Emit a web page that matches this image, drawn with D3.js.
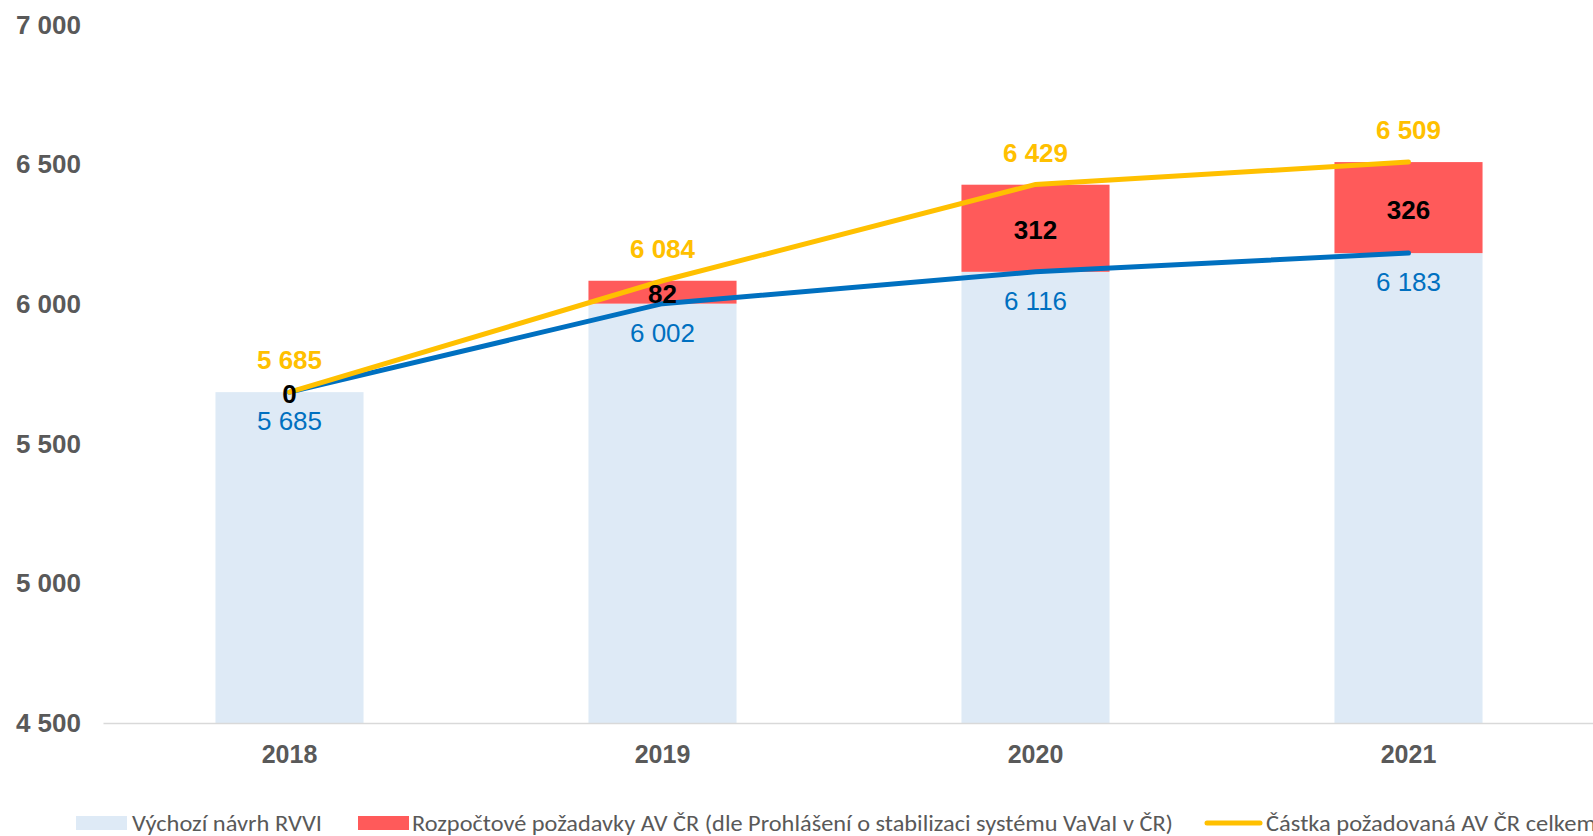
<!DOCTYPE html>
<html>
<head>
<meta charset="utf-8">
<script src="https://cdn.jsdelivr.net/npm/d3@7"></script>
<style>
  body { margin: 0; background: #fff; }
  svg { display: block; }
</style>
</head>
<body>
<div class="chart"></div>
<script>
//Chart data
var years = ["2018", "2019", "2020", "2021"];
var baseValues = [5685, 6002, 6116, 6183];
var requestValues = [0, 82, 312, 326];
var totalValues = [5685, 6084, 6429, 6509];
var yTicks = [4500, 5000, 5500, 6000, 6500, 7000];
var legendLabels = [
    "Výchozí návrh RVVI",
    "Rozpočtové požadavky AV ČR (dle Prohlášení o stabilizaci systému VaVaI v ČR)",
    "Částka požadovaná AV ČR celkem"
];

//Width and height
var w = 1593;
var h = 836;

var colBase = "#deeaf6";
var colRequest = "#ff5a5a";
var colBlue = "#0070c0";
var colOrange = "#ffc000";
var colText = "#595959";

//Czech style number format (space as thousands separator)
var fmt = d3.formatLocale({ decimal: ",", thousands: " ", grouping: [3], currency: ["", ""] }).format(",d");

var svg = d3.select(".chart")
    .append("svg")
    .attr("width", w)
    .attr("height", h)
    .style("font-family", "'Liberation Sans', Arial, sans-serif");

//Scales
var xScale = d3.scaleBand()
    .domain(years)
    .range([103, 1595])
    .paddingInner(0.603)
    .paddingOuter(0.3015);

var yScale = d3.scaleLinear()
    .domain([4500, 7000])
    .range([723, 25]);

var rows = years.map((y, i) => ({
    year: y,
    base: baseValues[i],
    request: requestValues[i],
    total: totalValues[i]
}));

//Y axis labels (no gridlines)
var yAxis = d3.axisLeft(yScale)
    .tickValues(yTicks)
    .tickFormat(fmt)
    .tickSize(0)
    .tickPadding(0);
var gy = svg.append("g")
    .attr("transform", "translate(81,0)")
    .call(yAxis);
gy.select(".domain").remove();
gy.selectAll("text")
    .attr("fill", colText)
    .style("font-size", "26px")
    .style("font-weight", "bold");

//Bars
svg.selectAll(".base")
    .data(rows)
    .enter()
    .append("rect")
    .attr("class", "base")
    .attr("x", d => xScale(d.year))
    .attr("y", d => yScale(d.base))
    .attr("width", xScale.bandwidth())
    .attr("height", d => yScale(4500) - yScale(d.base))
    .attr("fill", colBase);

svg.selectAll(".request")
    .data(rows)
    .enter()
    .append("rect")
    .attr("class", "request")
    .attr("x", d => xScale(d.year))
    .attr("y", d => yScale(d.base + d.request))
    .attr("width", xScale.bandwidth())
    .attr("height", d => yScale(d.base) - yScale(d.base + d.request))
    .attr("fill", colRequest);

//X axis
var xAxis = d3.axisBottom(xScale).tickSize(0).tickPadding(0);
var gx = svg.append("g")
    .attr("transform", "translate(0," + yScale(4500) + ")")
    .call(xAxis);
gx.select(".domain")
    .attr("stroke", "#d9d9d9")
    .attr("stroke-width", 1.5);
gx.selectAll("text")
    .attr("y", 31)
    .attr("dy", "0.35em")
    .attr("fill", colText)
    .style("font-size", "25px")
    .style("font-weight", "bold");

//Lines
var cx = d => xScale(d.year) + xScale.bandwidth() / 2;

svg.append("path")
    .datum(rows)
    .attr("fill", "none")
    .attr("stroke", colBlue)
    .attr("stroke-width", 5)
    .attr("stroke-linecap", "round")
    .attr("d", d3.line().x(cx).y(d => yScale(d.base)));

svg.append("path")
    .datum(rows)
    .attr("fill", "none")
    .attr("stroke", colOrange)
    .attr("stroke-width", 5)
    .attr("stroke-linecap", "round")
    .attr("d", d3.line().x(cx).y(d => yScale(d.total)));

//Data labels
var labels = svg.append("g")
    .attr("text-anchor", "middle")
    .style("font-size", "26px");

labels.selectAll(".lbl-total")
    .data(rows)
    .enter()
    .append("text")
    .attr("x", cx)
    .attr("y", d => yScale(d.total) - 32)
    .attr("dy", "0.35em")
    .attr("fill", colOrange)
    .style("font-weight", "bold")
    .text(d => fmt(d.total));

labels.selectAll(".lbl-req")
    .data(rows)
    .enter()
    .append("text")
    .attr("x", cx)
    .attr("y", d => (yScale(d.base) + yScale(d.base + d.request)) / 2 + 2)
    .attr("dy", "0.35em")
    .attr("fill", "#000")
    .style("font-weight", "bold")
    .text(d => fmt(d.request));

labels.selectAll(".lbl-base")
    .data(rows)
    .enter()
    .append("text")
    .attr("x", cx)
    .attr("y", d => yScale(d.base) + 29)
    .attr("dy", "0.35em")
    .attr("fill", colBlue)
    .text(d => fmt(d.base));

//Legend
var legendItems = [
    { label: legendLabels[0], type: "rect", color: colBase, x: 76, tx: 132, tw: 190 },
    { label: legendLabels[1], type: "rect", color: colRequest, x: 358, tx: 412, tw: 761 },
    { label: legendLabels[2], type: "line", color: colOrange, x: 1207, tx: 1266, tw: 330 }
];
var ly = 823;
var legend = svg.append("g");
legendItems.forEach(it => {
    if (it.type === "rect") {
        legend.append("rect")
            .attr("x", it.x).attr("y", ly - 7)
            .attr("width", 51).attr("height", 14)
            .attr("fill", it.color);
    } else {
        legend.append("line")
            .attr("x1", it.x).attr("x2", it.x + 53)
            .attr("y1", ly).attr("y2", ly)
            .attr("stroke", it.color)
            .attr("stroke-width", 5)
            .attr("stroke-linecap", "round");
    }
    legend.append("text")
        .attr("x", it.tx)
        .attr("y", ly)
        .attr("dy", "0.35em")
        .attr("fill", colText)
        .attr("textLength", it.tw)
        .attr("lengthAdjust", "spacingAndGlyphs")
        .style("font-family", "Carlito, 'Liberation Sans Narrow', 'Open Sans', sans-serif")
        .style("font-size", "22px")
        .text(it.label);
});
</script>
</body>
</html>
